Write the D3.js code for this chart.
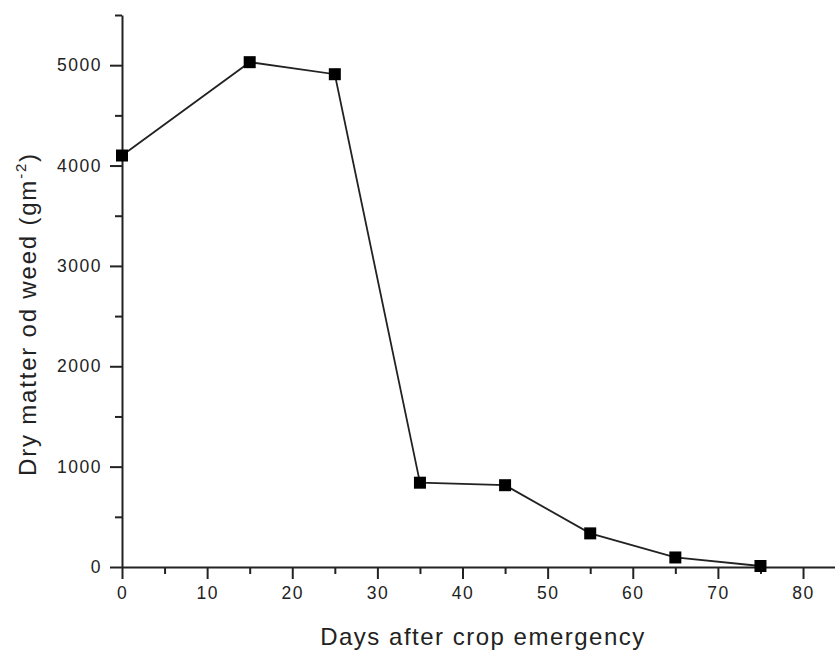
<!DOCTYPE html>
<html><head><meta charset="utf-8">
<script src="https://cdn.jsdelivr.net/npm/d3@7/dist/d3.min.js"></script>
<style>
body{margin:0;background:#fff;}
svg{display:block;font-family:"Liberation Sans",Arial,sans-serif;}
</style></head>
<body>
<svg id="c" width="835" height="650"></svg>
<script>
const days = [0, 15, 25, 35, 45, 55, 65, 75];
const dryMatter = [4100, 5030, 4910, 840, 815, 335, 95, 10];
const xTicks = [0, 10, 20, 30, 40, 50, 60, 70, 80];
const yTicks = [0, 1000, 2000, 3000, 4000, 5000];
const xMinor = [5, 15, 25, 35, 45, 55, 65, 75, 85];
const yMinor = [500, 1500, 2500, 3500, 4500, 5500];

const svg = d3.select("#c");
const x = d3.scaleLinear().domain([0, 85]).range([122, 845.6]);
const y = d3.scaleLinear().domain([0, 5500]).range([567, 15]);
const axisColor = "#222";

// x axis
const gx = svg.append("g").attr("transform", "translate(0,567)");
gx.call(d3.axisBottom(x).tickValues(xTicks).tickSize(12).tickSizeOuter(0).tickPadding(8).tickFormat(d3.format("d")));
gx.append("g").call(d3.axisBottom(x).tickValues(xMinor).tickSize(7).tickFormat(""))
  .select(".domain").remove();
// y axis
const gy = svg.append("g").attr("transform", "translate(122,0)");
gy.call(d3.axisLeft(y).tickValues(yTicks).tickSize(12).tickSizeOuter(0).tickPadding(8).tickFormat(d3.format("d")));
gy.append("g").call(d3.axisLeft(y).tickValues(yMinor).tickSize(7).tickFormat(""))
  .select(".domain").remove();

svg.selectAll(".domain").attr("stroke", axisColor).attr("stroke-width", 2);
svg.selectAll(".tick line").attr("stroke", axisColor).attr("stroke-width", 2);
svg.selectAll(".tick text").attr("fill", "#222").style("font-size", "17.5px").style("letter-spacing", "1.5px");

// line
const pts = days.map((d, i) => [d, dryMatter[i]]);
svg.append("path").datum(pts)
  .attr("fill", "none").attr("stroke", "#222").attr("stroke-width", 1.8)
  .attr("d", d3.line().x(d => x(d[0])).y(d => y(d[1])));
const ms = 12;
svg.selectAll("rect.m").data(pts).enter().append("rect").attr("class", "m")
  .attr("x", d => x(d[0]) - ms / 2).attr("y", d => y(d[1]) - ms / 2)
  .attr("width", ms).attr("height", ms).attr("fill", "#000");

// titles
svg.append("text").attr("x", 483).attr("y", 645).attr("text-anchor", "middle")
  .style("font-size", "24px").style("letter-spacing", "1.5px").attr("fill", "#222")
  .text("Days after crop emergency");
const yt = svg.append("text").attr("transform", "translate(36,314) rotate(-90)")
  .attr("text-anchor", "middle").style("font-size", "24px").style("letter-spacing", "1.8px").attr("fill", "#222");
yt.append("tspan").text("Dry matter od weed (gm");
yt.append("tspan").attr("dy", -10).style("font-size", "15px").text("-2");
yt.append("tspan").attr("dy", 10).text(")");
</script>
</body></html>
